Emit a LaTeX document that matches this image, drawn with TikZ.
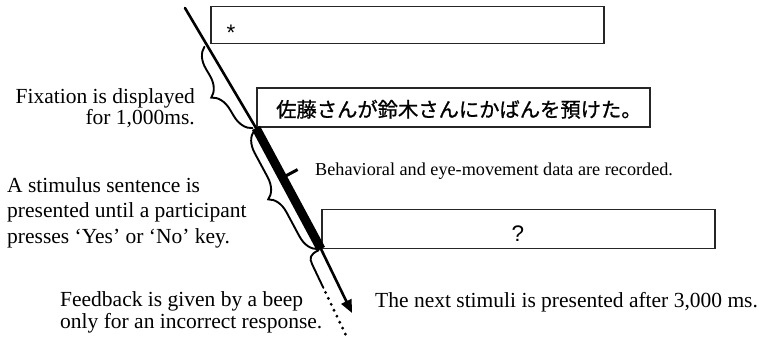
\documentclass[tikz,border=0pt]{standalone}
\usepackage{fontspec}
\setmainfont{Liberation Serif}
\newfontfamily\jpfont[FakeBold=1]{Noto Sans CJK JP}
\newfontfamily\boxfont{Liberation Sans}
\usetikzlibrary{calc,arrows.meta,decorations.pathreplacing}
\begin{document}
\begin{tikzpicture}[x=1pt,y=-1pt,
  stimbox/.style={draw=black!85, line width=1.5pt, minimum width=393pt, inner sep=0pt, anchor=south west},
  maintext/.style={inner sep=0pt},
  bracestyle/.style={draw, line width=1.9pt, line cap=round, decorate, decoration={brace, mirror, amplitude=20pt, raise=3pt}},
  timeline/.style={line width=2.6pt, line cap=round},
  boxtext/.style={font=\boxfont\fontsize{22.5}{24}\selectfont, inner sep=0pt, anchor=base}
]
\useasboundingbox (0,0) rectangle (764,340);

% stimulus boxes
\node[stimbox, minimum height=37pt] (b1) at (210,44) {};
\node[stimbox, minimum height=39pt, line width=2pt] (b2) at (256,128) {};
\node[stimbox, minimum height=39pt] (b3) at (321,249) {};

\node[boxtext] (star) at (231,40.8) {*};
\node[font=\jpfont\fontsize{20.3}{22}\selectfont, inner sep=0pt, anchor=base west] (jp) at (276,117) {佐藤さんが鈴木さんにかばんを預けた。};
\node[boxtext] (q) at (518,241.5) {?};

% time line
\coordinate (top) at (185,8);
\coordinate (tend) at (352,313);
\draw[timeline] (top) -- (b2.south west);
\draw[line width=9pt] (b2.south west) -- (b3.south west);
\draw[line width=2.6pt, -{Triangle[length=13pt,width=11pt]}] (b3.south west) -- (tend);

% tick to recording note
\coordinate (tb) at ($(b2.south west)!0.41!(b3.south west)$);
\coordinate (te) at ($(tb)!17pt!90:(b3.south west)$);
\draw[line width=3pt] (tb) -- (te);

% braces
\coordinate (br1s) at ($(top)!0.31!(b2.south west)$);
\coordinate (br1e) at ($(b2.south west)!1.5pt!(top)$);
\coordinate (br2s) at ($(b2.south west)!1.5pt!(b3.south west)$);
\coordinate (br2e) at ($(b3.south west)!1.5pt!(b2.south west)$);
\draw[bracestyle] (br1s) -- (br1e);
\draw[bracestyle] (br2s) -- (br2e);
\draw[line width=1.9pt, line cap=round] (318.7,250.2) .. controls (309.7,254.5) and (309.2,258.1) .. (312.2,264.4) -- (323.4,287.9);
\draw[line width=3.2pt, line cap=round, dash pattern=on 0pt off 6.6pt] (325.5,292.4) -- (346.2,335.7);

% texts
\node[maintext, font=\fontsize{21.5}{21}\selectfont, align=right, anchor=base east] (fix) at (195,124) {Fixation is displayed\\for 1,000ms.};
\node[maintext, font=\fontsize{21.5}{25.5}\selectfont, align=left, anchor=base west] (stim) at (7,243) {A stimulus sentence is\\presented until a participant\\presses ‘Yes’ or ‘No’ key.};
\node[maintext, font=\fontsize{21.5}{22}\selectfont, align=left, anchor=base west] (fb) at (60,328) {Feedback is given by a beep\\only for an incorrect response.};
\node[maintext, font=\fontsize{21.5}{22}\selectfont, anchor=base west] (next) at (375,307) {The next stimuli is presented after 3,000 ms.};
\node[maintext, font=\fontsize{18.2}{20}\selectfont, anchor=base west] (beh) at (315,175) {Behavioral and eye-movement data are recorded.};
\end{tikzpicture}
\end{document}
